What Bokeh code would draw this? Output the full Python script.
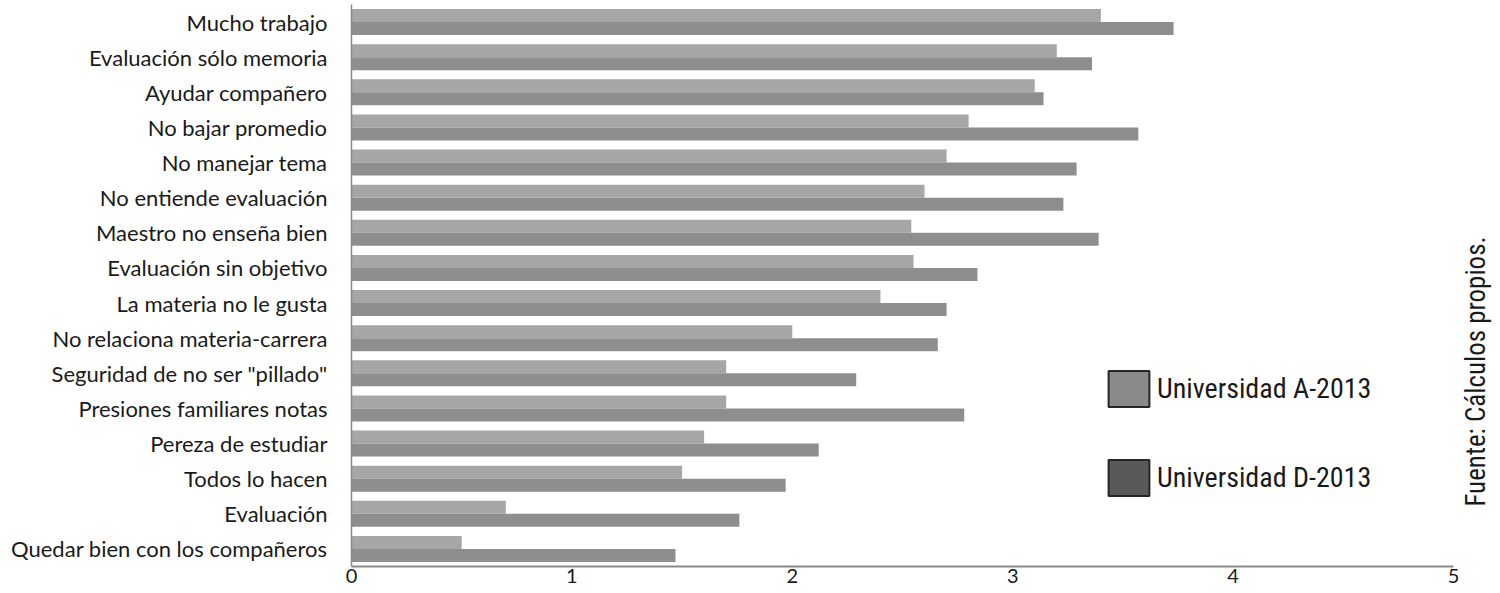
import math
from bokeh.plotting import figure
from bokeh.models import FactorRange, Range1d, Legend, LegendItem, Label, ColumnDataSource
from bokeh.transform import dodge
from bokeh.embed import file_html
from bokeh.resources import INLINE

# ---- data (top to bottom as in the chart) ----
categories = [
    "Mucho trabajo",
    "Evaluación sólo memoria",
    "Ayudar compañero",
    "No bajar promedio",
    "No manejar tema",
    "No entiende evaluación",
    "Maestro no enseña bien",
    "Evaluación sin objetivo",
    "La materia no le gusta",
    "No relaciona materia-carrera",
    "Seguridad de no ser \"pillado\"",
    "Presiones familiares notas",
    "Pereza de estudiar",
    "Todos lo hacen",
    "Evaluación",
    "Quedar bien con los compañeros",
]
univ_a = [3.40, 3.20, 3.10, 2.80, 2.70, 2.60, 2.54, 2.55, 2.40, 2.00, 1.70, 1.70, 1.60, 1.50, 0.70, 0.50]
univ_d = [3.73, 3.36, 3.14, 3.57, 3.29, 3.23, 3.39, 2.84, 2.70, 2.66, 2.29, 2.78, 2.12, 1.97, 1.76, 1.47]
series_names = ["Universidad A-2013", "Universidad D-2013"]
x_ticks = [0, 1, 2, 3, 4, 5]
source_note = "Fuente: Cálculos propios."

source = ColumnDataSource(dict(cat=categories, a=univ_a, d=univ_d))

p = figure(
    width=1492, height=585,
    y_range=FactorRange(factors=categories[::-1], range_padding=0),
    x_range=Range1d(0, 5.177),
    output_backend="svg", toolbar_location=None,
    min_border_left=351, min_border_right=0, min_border_top=4, min_border_bottom=0,
)
p.outline_line_color = None
p.background_fill_color = "white"
p.border_fill_color = "white"
p.grid.visible = False

bar_h = 0.371
p.hbar(y=dodge("cat", 0.186, range=p.y_range), left=0, right="a", height=bar_h,
       source=source, fill_color="#a6a6a6", line_color=None)
p.hbar(y=dodge("cat", -0.186, range=p.y_range), left=0, right="d", height=bar_h,
       source=source, fill_color="#8e8e8e", line_color=None)

# legend swatches (styled as in the reference; NaN length so nothing is drawn in the plot)
nan = float("nan")
ra = p.hbar(y=[categories[0]], left=[0], right=[nan], height=0.5,
            fill_color="#8a8a8a", line_color="#262626", line_width=2)
rd = p.hbar(y=[categories[0]], left=[0], right=[nan], height=0.5,
            fill_color="#595959", line_color="#262626", line_width=2)
legend = Legend(
    items=[LegendItem(label=series_names[0], renderers=[ra]),
           LegendItem(label=series_names[1], renderers=[rd])],
    location=(752, 66), orientation="vertical",
    glyph_width=51, glyph_height=45, spacing=44, label_standoff=3,
    padding=0, margin=0, border_line_alpha=0, background_fill_alpha=0,
    label_text_font="Roboto Condensed", label_text_font_size="28px",
    label_text_color="#1a1a1a", label_text_baseline="middle",
)
p.add_layout(legend, "center")

# axes
xa = p.xaxis[0]
xa.ticker = x_ticks
xa.bounds = (0, 5)
xa.axis_line_color = "#8a8a8a"
xa.axis_line_width = 2
xa.major_tick_line_color = None
xa.minor_tick_line_color = None
xa.major_tick_out = 0
xa.major_tick_in = 0
xa.major_label_standoff = 2
xa.major_label_text_font = "Lato"
xa.major_label_text_font_size = "20px"
xa.major_label_text_color = "#1a1a1a"

ya = p.yaxis[0]
ya.axis_line_color = "#8a8a8a"
ya.axis_line_width = 1.5
ya.major_tick_line_color = None
ya.minor_tick_line_color = None
ya.major_tick_out = 0
ya.major_tick_in = 0
ya.major_label_standoff = 24
ya.major_label_text_font = "Lato"
ya.major_label_text_font_size = "22px"
ya.major_label_text_color = "#1a1a1a"

note = Label(x=5.104, y=195, x_units="data", y_units="screen", text=source_note,
             angle=math.pi / 2, text_align="center", text_baseline="middle",
             text_font="Roboto Condensed", text_font_size="27px",
             text_color="#1a1a1a")
p.add_layout(note)

open("out.html", "w").write(file_html(p, INLINE))
